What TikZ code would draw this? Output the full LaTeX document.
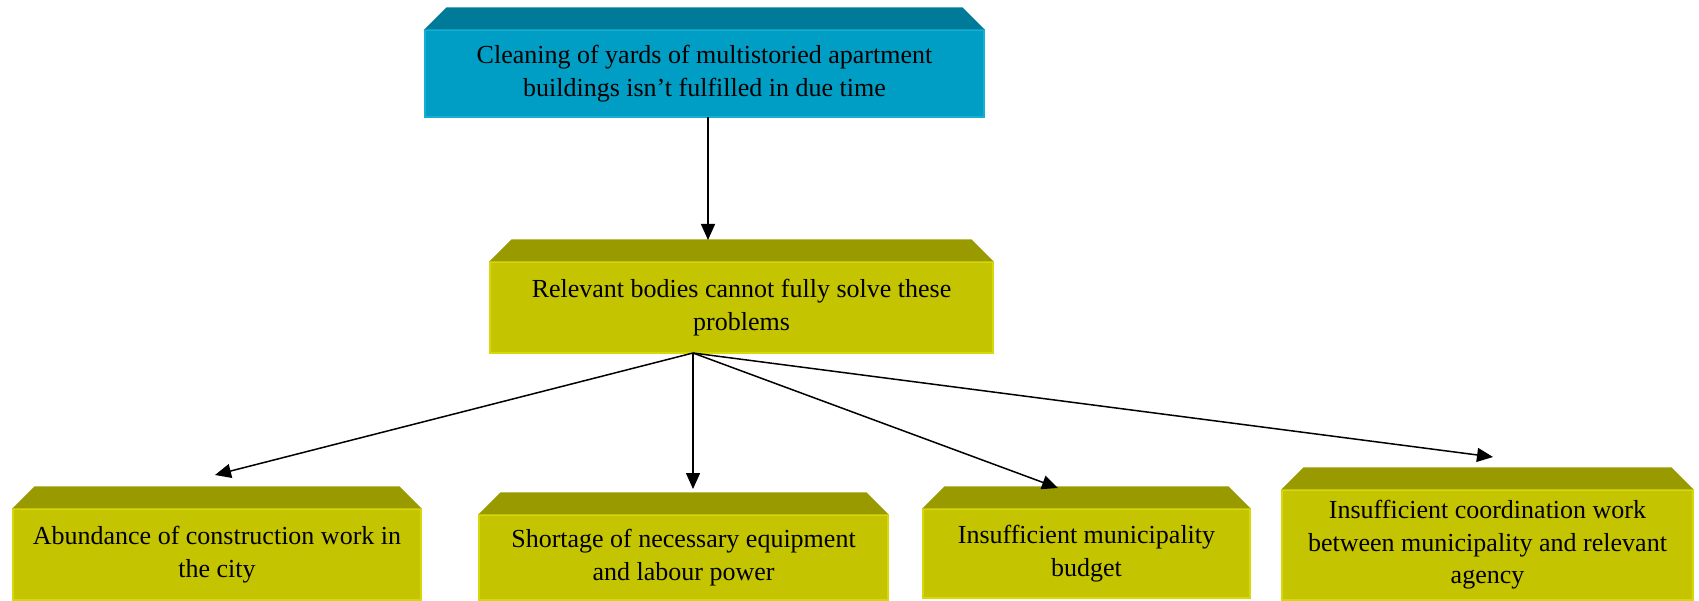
\documentclass[tikz,border=0pt]{standalone}
\usepackage{fontspec}
\setmainfont{Liberation Serif}
\usetikzlibrary{calc,arrows.meta}
\definecolor{bface}{RGB}{0,158,196}
\definecolor{bbevel}{RGB}{0,122,153}
\definecolor{bedge}{RGB}{20,175,210}
\definecolor{yface}{RGB}{196,196,0}
\definecolor{ybevel}{RGB}{153,153,0}
\definecolor{yedge}{RGB}{215,215,10}
\tikzset{
  facebox/.style={inner sep=0pt, align=center, font=\fontsize{26}{32.5}\selectfont, text=black, line width=1.2pt},
  bluebox/.style={facebox, fill=bface, draw=bedge},
  yelbox/.style={facebox, fill=yface, draw=yedge},
  arr/.style={line width=1.5pt, -{Triangle[length=16pt,width=14pt]}}
}
\newcommand{\bevel}[2]{%
  \fill[#2] (#1.north west) -- ++(22,22) -- ($(#1.north east)+(-22,22)$) -- (#1.north east) -- cycle;}
\begin{document}
\begin{tikzpicture}[x=1pt,y=1pt]
\useasboundingbox (0,0) rectangle (1699,600);
% top
\node[bluebox, minimum width=559, minimum height=87] (t) at (704.5,526.5)
  {Cleaning of yards of multistoried apartment\\buildings isn’t fulfilled in due time};
\bevel{t}{bbevel}
% middle
\node[yelbox, minimum width=503, minimum height=91] (m) at (741.5,292.5)
  {Relevant bodies cannot fully solve these\\problems};
\bevel{m}{ybevel}
% bottom
\node[yelbox, minimum width=408, minimum height=91] (b1) at (217,45.5)
  {Abundance of construction work in\\the city};
\bevel{b1}{ybevel}
\node[yelbox, minimum width=409, minimum height=85] (b2) at (683.5,42.5)
  {Shortage of necessary equipment\\and labour power};
\bevel{b2}{ybevel}
\node[yelbox, minimum width=327, minimum height=89] (b3) at (1086.5,46.5)
  {Insufficient municipality\\budget};
\bevel{b3}{ybevel}
\node[yelbox, minimum width=411, minimum height=110] (b4) at (1487.5,55)
  {Insufficient coordination work\\between municipality and relevant\\agency};
\bevel{b4}{ybevel}
% connectors
\coordinate (ts) at (708,483);
\coordinate (mt) at (708,360);
\coordinate (ms) at (693,247);
\coordinate (e1) at (215,125);
\coordinate (e2) at (693,111);
\coordinate (e3) at (1058,112);
\coordinate (e4) at (1493,143);
\draw[arr] (ts) -- (mt);
\draw[arr] (ms) -- (e1);
\draw[arr] (ms) -- (e2);
\draw[arr] (ms) -- (e3);
\draw[arr] (ms) -- (e4);
\end{tikzpicture}
\end{document}
